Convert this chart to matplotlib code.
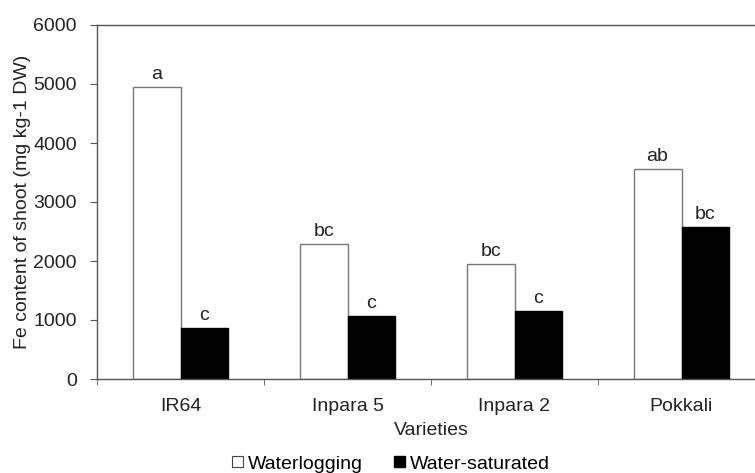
import matplotlib
matplotlib.use("Agg")
import matplotlib.pyplot as plt
from matplotlib.patches import Patch
import numpy as np

plt.rcParams['font.family'] = ['Liberation Sans', 'DejaVu Sans']

categories = ["IR64", "Inpara 5", "Inpara 2", "Pokkali"]
waterlogging = [4950, 2290, 1950, 3560]
water_saturated = [865, 1068, 1158, 2580]
letters_wl = ["a", "bc", "bc", "ab"]
letters_ws = ["c", "c", "c", "bc"]
yticks = [0, 1000, 2000, 3000, 4000, 5000, 6000]

FS = 14
W, H = 755, 473
fig = plt.figure(figsize=(W / 100, H / 100), dpi=100)
ax = fig.add_axes([97 / W, (H - 379) / H, (765 - 97) / W, (379 - 25) / H])

x = np.arange(len(categories))
bw = 0.287
ax.bar(x - bw / 2, waterlogging, width=bw, color="white", edgecolor="#777777", linewidth=1.0)
ax.bar(x + bw / 2, water_saturated, width=bw, color="black", edgecolor="black", linewidth=1.0)

for xi, v, t in zip(x - bw / 2, waterlogging, letters_wl):
    ax.annotate(t, (xi, v), xytext=(0, 3), textcoords="offset points",
                ha="center", va="bottom", fontsize=FS, color="#222222")
for xi, v, t in zip(x + bw / 2, water_saturated, letters_ws):
    ax.annotate(t, (xi, v), xytext=(0, 3), textcoords="offset points",
                ha="center", va="bottom", fontsize=FS, color="#222222")

ax.set_xlim(-0.5, 3.5)
ax.set_ylim(0, 6000)
ax.set_yticks(yticks)
ax.set_yticklabels([str(v) for v in yticks], fontsize=FS, color="#222222")
ax.set_xticks(x)
ax.set_xticklabels(categories, fontsize=FS, color="#222222")
ax.tick_params(axis="x", length=0, pad=13.5)
ax.set_xticks(np.arange(-0.5, 3.6, 1.0), minor=True)
ax.tick_params(axis="x", which="minor", length=4.5, direction="out", color="#555555")
ax.tick_params(axis="y", length=5, direction="out", color="#555555", pad=9.5)

for s in ["left", "bottom", "top"]:
    ax.spines[s].set_color("#555555")
    ax.spines[s].set_linewidth(1.0)
ax.spines["right"].set_visible(False)

ax.set_xlabel("Varieties", fontsize=FS, color="#222222", labelpad=5.5)
ax.set_ylabel("Fe content of shoot (mg kg-1 DW)", fontsize=FS, color="#222222", labelpad=1.5)

handles = [Patch(facecolor="white", edgecolor="#444444", linewidth=0.8, label="Waterlogging"),
           Patch(facecolor="black", edgecolor="black", label="Water-saturated")]
leg = fig.legend(handles=handles, loc="center", bbox_to_anchor=(391 / W, 1 - 464 / H),
                 ncol=2, frameon=False, fontsize=FS, handlelength=0.55, handleheight=0.55,
                 handletextpad=0.25, columnspacing=1.6, borderaxespad=0, borderpad=0)

fig.savefig("out.png", dpi=100)
